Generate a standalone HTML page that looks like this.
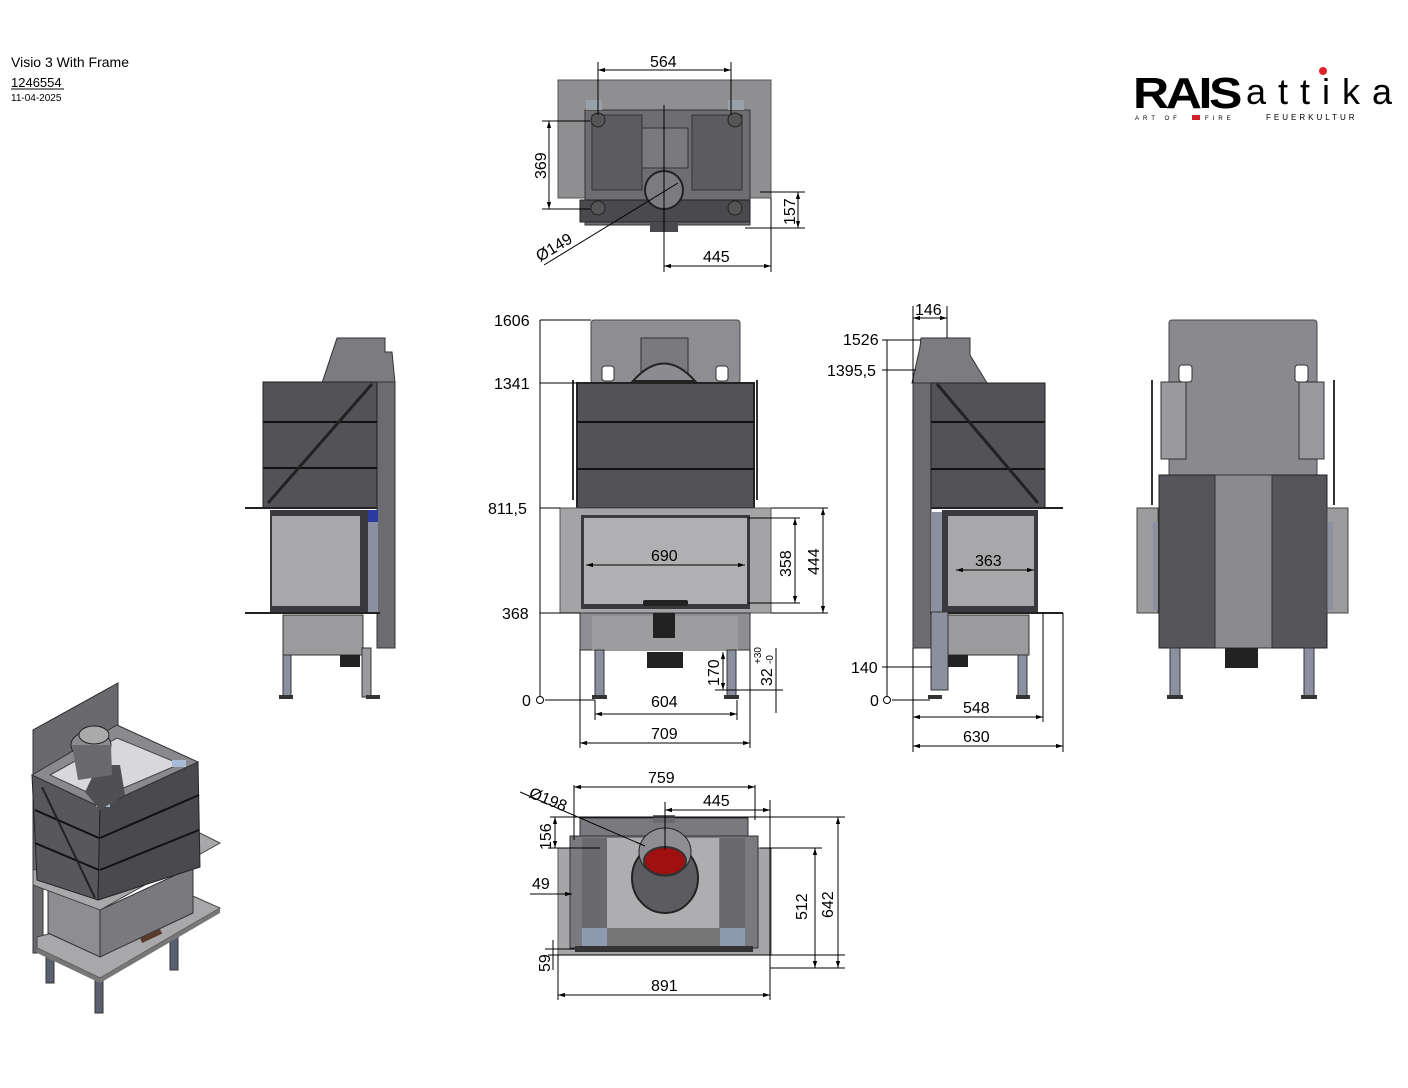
<!DOCTYPE html>
<html><head><meta charset="utf-8"><style>
html,body{margin:0;padding:0;background:#fff;}
svg{display:block;}
text{font-family:"Liberation Sans","DejaVu Sans",sans-serif;fill:#000;}
.d{stroke:#000;stroke-width:1;fill:none;}
.t{font-size:16px;}
</style></head><body>
<svg width="1408" height="1088" viewBox="0 0 1408 1088" xmlns="http://www.w3.org/2000/svg">
<defs>
<marker id="a" viewBox="0 0 10 10" refX="10" refY="5" markerWidth="7" markerHeight="7" orient="auto-start-reverse"><path d="M0,2 L10,5 L0,8 z" fill="#000"/></marker>
</defs>

<!-- title block -->
<text x="11" y="67" font-size="14">Visio 3 With Frame</text>
<text x="11" y="87" font-size="13">1246554</text>
<line x1="11" y1="89" x2="64" y2="89" stroke="#000"/>
<text x="11" y="101" font-size="10">11-04-2025</text>

<!-- logo -->
<text x="1133" y="108" font-size="44" font-weight="bold" letter-spacing="-3" textLength="106" lengthAdjust="spacingAndGlyphs">RAIS</text>
<text x="1246" y="104" font-size="36" letter-spacing="12">attika</text>
<circle cx="1323" cy="71" r="4" fill="#e0202a"/>
<text x="1135" y="120" font-size="6" letter-spacing="4">ART OF</text>
<rect x="1192" y="115" width="8" height="5" fill="#d0202a"/>
<text x="1205" y="120" font-size="6" letter-spacing="4">FIRE</text>
<text x="1266" y="120" font-size="8" letter-spacing="3">FEUERKULTUR</text>

<!-- ============ TOP VIEW ============ -->
<rect x="558" y="80" width="213" height="118" fill="#8f8f92" stroke="#555"/>
<rect x="585" y="110" width="165" height="115" fill="#6e6e72" stroke="#333"/>
<rect x="592" y="115" width="50" height="75" fill="#5c5c60" stroke="#333"/>
<rect x="692" y="115" width="50" height="75" fill="#5c5c60" stroke="#333"/>
<rect x="642" y="128" width="46" height="40" fill="#7a7a7e" stroke="#333"/>
<rect x="580" y="200" width="170" height="22" fill="#4a4a4e" stroke="#222"/>
<rect x="650" y="222" width="28" height="10" fill="#4a4a4e"/>
<circle cx="664" cy="190" r="19" fill="#7c7c80" stroke="#222" stroke-width="2"/>
<circle cx="598" cy="120" r="7" fill="#555" stroke="#222"/><circle cx="735" cy="120" r="7" fill="#555" stroke="#222"/>
<circle cx="598" cy="208" r="7" fill="#555" stroke="#222"/><circle cx="735" cy="208" r="7" fill="#555" stroke="#222"/>
<rect x="586" y="100" width="16" height="10" fill="#9aa0aa"/><rect x="728" y="100" width="16" height="10" fill="#9aa0aa"/>
<line x1="664" y1="105" x2="664" y2="272" class="d"/>
<line x1="598" y1="62" x2="598" y2="115" class="d"/><line x1="731" y1="62" x2="731" y2="115" class="d"/>
<line x1="598" y1="70" x2="731" y2="70" class="d" marker-start="url(#a)" marker-end="url(#a)"/>
<text x="650" y="67" class="t">564</text>
<line x1="542" y1="121" x2="590" y2="121" class="d"/><line x1="542" y1="209" x2="590" y2="209" class="d"/>
<line x1="549" y1="121" x2="549" y2="209" class="d" marker-start="url(#a)" marker-end="url(#a)"/>
<text transform="translate(546,179) rotate(-90)" class="t">369</text>
<line x1="760" y1="192" x2="805" y2="192" class="d"/><line x1="745" y1="228" x2="805" y2="228" class="d"/>
<line x1="798" y1="192" x2="798" y2="228" class="d" marker-start="url(#a)" marker-end="url(#a)"/>
<text transform="translate(795,225) rotate(-90)" class="t">157</text>
<line x1="771" y1="198" x2="771" y2="272" class="d"/>
<line x1="664" y1="266" x2="771" y2="266" class="d" marker-start="url(#a)" marker-end="url(#a)"/>
<text x="703" y="262" class="t">445</text>
<line x1="544" y1="265" x2="678" y2="183" class="d"/>
<text transform="translate(540,262) rotate(-31)" class="t">Ø149</text>

<!-- ============ LEFT SIDE VIEW ============ -->
<polygon points="337,338 385,338 385,352 392,352 395,383 322,383" fill="#7c7c80" stroke="#333"/>
<rect x="377" y="382" width="18" height="266" fill="#6c6c70" stroke="#333"/>
<rect x="263" y="382" width="114" height="126" fill="#535357" stroke="#222"/>
<line x1="263" y1="422" x2="377" y2="422" stroke="#111" stroke-width="2"/>
<line x1="263" y1="468" x2="377" y2="468" stroke="#111" stroke-width="2"/>
<line x1="268" y1="503" x2="372" y2="384" stroke="#222" stroke-width="3"/>
<line x1="245" y1="508" x2="377" y2="508" stroke="#222" stroke-width="2"/>
<rect x="270" y="510" width="98" height="102" fill="#3a3a3e"/>
<rect x="272" y="516" width="88" height="90" fill="#a8a8aa"/>
<rect x="368" y="510" width="10" height="102" fill="#8a90a0"/><rect x="368" y="510" width="10" height="12" fill="#2a3aa0"/>
<line x1="245" y1="613" x2="380" y2="613" stroke="#222" stroke-width="2"/>
<rect x="283" y="615" width="80" height="40" fill="#9b9b9e" stroke="#333"/>
<rect x="340" y="655" width="20" height="12" fill="#222"/>
<rect x="283" y="655" width="8" height="42" fill="#8a90a0" stroke="#333"/>
<rect x="362" y="648" width="9" height="49" fill="#9a9a9e" stroke="#333"/>
<rect x="279" y="695" width="14" height="4" fill="#333"/><rect x="366" y="695" width="14" height="4" fill="#333"/>

<!-- ============ FRONT VIEW ============ -->
<rect x="591" y="320" width="149" height="63" rx="3" fill="#8e8e92" stroke="#444"/>
<rect x="602" y="366" width="12" height="15" rx="3" fill="#fff" stroke="#333"/>
<rect x="716" y="366" width="12" height="15" rx="3" fill="#fff" stroke="#333"/>
<rect x="641" y="338" width="47" height="45" fill="#7a7a7e" stroke="#333"/>
<path d="M633,381 Q664,346 695,381 Z" fill="#8c8c90" stroke="#222" stroke-width="2"/>
<rect x="577" y="383" width="177" height="125" fill="#535357" stroke="#222" stroke-width="2"/>
<line x1="577" y1="422" x2="754" y2="422" stroke="#111" stroke-width="2"/>
<line x1="577" y1="469" x2="754" y2="469" stroke="#111" stroke-width="2"/>
<line x1="573" y1="380" x2="573" y2="500" stroke="#333" stroke-width="2"/>
<line x1="757" y1="380" x2="757" y2="500" stroke="#333" stroke-width="2"/>
<rect x="560" y="508" width="211" height="105" fill="#a4a4a6" stroke="#555"/>
<rect x="581" y="515" width="169" height="94" fill="#3a3a3e"/>
<rect x="584" y="518" width="163" height="86" fill="#b0b0b2"/>
<rect x="643" y="600" width="45" height="6" rx="2" fill="#222"/>
<rect x="580" y="613" width="170" height="37" fill="#8e8e92" stroke="#333"/>
<rect x="592" y="616" width="146" height="34" fill="#9d9d9f"/>
<rect x="653" y="613" width="22" height="25" fill="#222"/>
<rect x="647" y="652" width="36" height="16" fill="#222"/>
<rect x="595" y="650" width="9" height="47" fill="#8a90a0" stroke="#333"/>
<rect x="727" y="650" width="9" height="47" fill="#8a90a0" stroke="#333"/>
<rect x="592" y="695" width="15" height="4" fill="#333"/><rect x="724" y="695" width="15" height="4" fill="#333"/>
<!-- front dims -->
<line x1="540" y1="320" x2="540" y2="700" class="d"/>
<line x1="540" y1="320" x2="591" y2="320" class="d"/>
<line x1="540" y1="383" x2="577" y2="383" class="d"/>
<line x1="540" y1="508" x2="560" y2="508" class="d"/>
<line x1="540" y1="613" x2="580" y2="613" class="d"/>
<line x1="545" y1="700" x2="595" y2="700" class="d"/>
<circle cx="540" cy="700" r="3.5" fill="#fff" stroke="#000"/>
<text x="494" y="326" class="t">1606</text>
<text x="494" y="389" class="t">1341</text>
<text x="488" y="514" class="t">811,5</text>
<text x="502" y="619" class="t">368</text>
<text x="522" y="706" class="t">0</text>
<line x1="586" y1="565" x2="745" y2="565" class="d" marker-start="url(#a)" marker-end="url(#a)"/>
<text x="651" y="561" class="t">690</text>
<line x1="748" y1="518" x2="800" y2="518" class="d"/><line x1="748" y1="603" x2="800" y2="603" class="d"/>
<line x1="795" y1="518" x2="795" y2="603" class="d" marker-start="url(#a)" marker-end="url(#a)"/>
<text transform="translate(791,577) rotate(-90)" class="t">358</text>
<line x1="771" y1="508" x2="828" y2="508" class="d"/><line x1="771" y1="613" x2="828" y2="613" class="d"/>
<line x1="823" y1="508" x2="823" y2="613" class="d" marker-start="url(#a)" marker-end="url(#a)"/>
<text transform="translate(819,575) rotate(-90)" class="t">444</text>
<line x1="723" y1="652" x2="723" y2="690" class="d" marker-start="url(#a)" marker-end="url(#a)"/>
<line x1="715" y1="690" x2="783" y2="690" class="d"/>
<text transform="translate(719,686) rotate(-90)" class="t">170</text>
<line x1="776" y1="648" x2="776" y2="713" class="d"/>
<text transform="translate(772,686) rotate(-90)" class="t">32</text>
<text transform="translate(761,664) rotate(-90)" font-size="10">+30</text>
<text transform="translate(773,664) rotate(-90)" font-size="10">-0</text>
<line x1="595" y1="700" x2="595" y2="720" class="d"/><line x1="737" y1="700" x2="737" y2="720" class="d"/>
<line x1="595" y1="714" x2="737" y2="714" class="d" marker-start="url(#a)" marker-end="url(#a)"/>
<text x="651" y="707" class="t">604</text>
<line x1="580" y1="650" x2="580" y2="748" class="d"/><line x1="750" y1="650" x2="750" y2="748" class="d"/>
<line x1="580" y1="743" x2="750" y2="743" class="d" marker-start="url(#a)" marker-end="url(#a)"/>
<text x="651" y="739" class="t">709</text>

<!-- ============ RIGHT SIDE VIEW ============ -->
<polygon points="921,338 970,338 970,355 987,383 912,383 920,347" fill="#7c7c80" stroke="#333"/>
<rect x="913" y="383" width="18" height="265" fill="#6c6c70" stroke="#333"/>
<rect x="931" y="383" width="114" height="125" fill="#535357" stroke="#222"/>
<line x1="931" y1="422" x2="1045" y2="422" stroke="#111" stroke-width="2"/>
<line x1="931" y1="469" x2="1045" y2="469" stroke="#111" stroke-width="2"/>
<line x1="937" y1="384" x2="1038" y2="503" stroke="#222" stroke-width="3"/>
<line x1="931" y1="508" x2="1063" y2="508" stroke="#222" stroke-width="2"/>
<rect x="942" y="510" width="96" height="102" fill="#3a3a3e"/>
<rect x="948" y="516" width="86" height="90" fill="#a8a8aa"/>
<rect x="931" y="512" width="11" height="100" fill="#8a90a0"/>
<line x1="930" y1="613" x2="1063" y2="613" stroke="#222" stroke-width="2"/>
<rect x="944" y="615" width="85" height="40" fill="#9b9b9e" stroke="#333"/>
<rect x="948" y="655" width="20" height="12" fill="#222"/>
<rect x="931" y="612" width="17" height="78" fill="#8a90a0" stroke="#333"/>
<rect x="1018" y="655" width="9" height="42" fill="#8a90a0" stroke="#333"/>
<rect x="928" y="695" width="14" height="4" fill="#333"/><rect x="1016" y="695" width="14" height="4" fill="#333"/>
<!-- right dims -->
<line x1="887" y1="340" x2="887" y2="700" class="d"/>
<line x1="882" y1="340" x2="921" y2="340" class="d"/>
<line x1="882" y1="370" x2="916" y2="370" class="d"/>
<line x1="882" y1="667" x2="932" y2="667" class="d"/>
<line x1="892" y1="700" x2="930" y2="700" class="d"/>
<circle cx="887" cy="700" r="3.5" fill="#fff" stroke="#000"/>
<text x="843" y="345" class="t">1526</text>
<text x="827" y="376" class="t">1395,5</text>
<text x="851" y="673" class="t">140</text>
<text x="870" y="706" class="t">0</text>
<line x1="913" y1="306" x2="913" y2="383" class="d"/><line x1="947" y1="306" x2="947" y2="338" class="d"/>
<line x1="913" y1="318" x2="947" y2="318" class="d" marker-start="url(#a)" marker-end="url(#a)"/>
<text x="915" y="315" class="t">146</text>
<line x1="913" y1="648" x2="913" y2="752" class="d"/>
<line x1="1043" y1="612" x2="1043" y2="722" class="d"/>
<line x1="1063" y1="613" x2="1063" y2="752" class="d"/>
<line x1="913" y1="717" x2="1043" y2="717" class="d" marker-start="url(#a)" marker-end="url(#a)"/>
<text x="963" y="713" class="t">548</text>
<line x1="913" y1="746" x2="1063" y2="746" class="d" marker-start="url(#a)" marker-end="url(#a)"/>
<text x="963" y="742" class="t">630</text>
<line x1="956" y1="570" x2="1034" y2="570" class="d" marker-start="url(#a)" marker-end="url(#a)"/>
<text x="975" y="566" class="t">363</text>

<!-- ============ BACK VIEW ============ -->
<rect x="1169" y="320" width="148" height="165" rx="3" fill="#8a8a8e" stroke="#444"/>
<rect x="1179" y="365" width="13" height="17" rx="3" fill="#fff" stroke="#333"/>
<rect x="1295" y="365" width="13" height="17" rx="3" fill="#fff" stroke="#333"/>
<rect x="1161" y="382" width="25" height="77" fill="#9a9a9e" stroke="#333"/>
<rect x="1299" y="382" width="25" height="77" fill="#9a9a9e" stroke="#333"/>
<line x1="1152" y1="380" x2="1152" y2="505" stroke="#333" stroke-width="2"/>
<line x1="1334" y1="380" x2="1334" y2="505" stroke="#333" stroke-width="2"/>
<rect x="1159" y="475" width="168" height="173" fill="#55555a" stroke="#222"/>
<rect x="1215" y="475" width="57" height="173" fill="#8b8b8f" stroke="#333"/>
<rect x="1137" y="508" width="21" height="105" fill="#9c9c9e" stroke="#444"/>
<rect x="1327" y="508" width="21" height="105" fill="#9c9c9e" stroke="#444"/>
<rect x="1153" y="522" width="5" height="88" fill="#8a90a0"/><rect x="1328" y="522" width="5" height="88" fill="#8a90a0"/>
<rect x="1225" y="648" width="33" height="20" fill="#222"/>
<rect x="1170" y="648" width="10" height="49" fill="#8a90a0" stroke="#333"/>
<rect x="1304" y="648" width="10" height="49" fill="#8a90a0" stroke="#333"/>
<rect x="1167" y="695" width="16" height="4" fill="#333"/><rect x="1301" y="695" width="16" height="4" fill="#333"/>

<!-- ============ BOTTOM VIEW ============ -->
<rect x="558" y="848" width="213" height="107" fill="#a6a6a8" stroke="#555"/>
<rect x="580" y="818" width="168" height="20" fill="#7a7a7e" stroke="#333"/>
<rect x="653" y="815" width="22" height="8" fill="#6a6a6e"/>
<rect x="570" y="836" width="188" height="112" fill="#7b7b7f" stroke="#333"/>
<rect x="607" y="838" width="112" height="90" fill="#aeaeb0"/>
<rect x="582" y="838" width="25" height="110" fill="#6a6a6e"/>
<rect x="720" y="838" width="25" height="110" fill="#6a6a6e"/>
<rect x="582" y="928" width="25" height="18" fill="#8e9ab0"/><rect x="720" y="928" width="25" height="18" fill="#8e9ab0"/>
<rect x="607" y="928" width="113" height="18" fill="#777"/>
<rect x="575" y="946" width="178" height="6" fill="#333"/>
<ellipse cx="665" cy="878" rx="33" ry="35" fill="#5c5c60" stroke="#222" stroke-width="2"/>
<ellipse cx="665" cy="852" rx="26" ry="24" fill="#8e8e92" stroke="#222"/>
<ellipse cx="665" cy="861" rx="21" ry="14" fill="#a01010" stroke="#333" stroke-width="2"/>
<!-- bottom dims -->
<line x1="574" y1="785" x2="574" y2="840" class="d"/><line x1="755" y1="785" x2="755" y2="820" class="d"/>
<line x1="574" y1="787" x2="755" y2="787" class="d" marker-start="url(#a)" marker-end="url(#a)"/>
<text x="648" y="783" class="t">759</text>
<line x1="665" y1="802" x2="665" y2="850" class="d"/><line x1="770" y1="800" x2="770" y2="1000" class="d"/>
<line x1="665" y1="810" x2="770" y2="810" class="d" marker-start="url(#a)" marker-end="url(#a)"/>
<text x="703" y="806" class="t">445</text>
<line x1="520" y1="792" x2="645" y2="846" class="d"/>
<text transform="translate(528,797) rotate(22)" class="t">Ø198</text>
<line x1="550" y1="817" x2="845" y2="817" class="d"/>
<line x1="548" y1="848" x2="600" y2="848" class="d"/>
<line x1="555" y1="817" x2="555" y2="848" class="d" marker-start="url(#a)" marker-end="url(#a)"/>
<text transform="translate(551,850) rotate(-90)" class="t">156</text>
<line x1="530" y1="894" x2="572" y2="894" class="d" marker-end="url(#a)"/>
<text x="532" y="889" class="t">49</text>
<line x1="548" y1="955" x2="845" y2="955" class="d"/>
<line x1="545" y1="949" x2="575" y2="949" class="d"/>
<line x1="553" y1="940" x2="553" y2="970" class="d"/>
<text transform="translate(550,972) rotate(-90)" class="t">59</text>
<line x1="760" y1="848" x2="822" y2="848" class="d"/>
<line x1="815" y1="848" x2="815" y2="968" class="d" marker-start="url(#a)" marker-end="url(#a)"/>
<line x1="770" y1="968" x2="845" y2="968" class="d"/>
<text transform="translate(807,920) rotate(-90)" class="t">512</text>
<line x1="838" y1="817" x2="838" y2="968" class="d" marker-start="url(#a)" marker-end="url(#a)"/>
<text transform="translate(833,918) rotate(-90)" class="t">642</text>
<line x1="558" y1="955" x2="558" y2="1000" class="d"/>
<line x1="558" y1="995" x2="770" y2="995" class="d" marker-start="url(#a)" marker-end="url(#a)"/>
<text x="651" y="991" class="t">891</text>

<!-- ============ ISOMETRIC ============ -->
<polygon points="33,730 118,683 118,740 43,785 43,953 33,953" fill="#6a6a6e" stroke="#333"/>
<!-- legs -->
<rect x="46" y="948" width="8" height="35" fill="#5a6070" stroke="#333"/>
<rect x="95" y="978" width="8" height="35" fill="#5a6070" stroke="#333"/>
<rect x="170" y="935" width="8" height="35" fill="#5a6070" stroke="#333"/>
<!-- base plate -->
<polygon points="37,937 193,896 220,908 100,978 37,948" fill="#a8a8aa" stroke="#444"/>
<polygon points="37,948 100,978 100,983 37,953" fill="#777"/>
<polygon points="100,978 220,908 220,913 100,983" fill="#777"/>
<!-- lower box -->
<polygon points="48,882 100,910 100,957 48,933" fill="#8e8e92" stroke="#333"/>
<polygon points="100,910 193,867 193,913 100,957" fill="#7a7a7e" stroke="#333"/>
<rect x="140" y="934" width="22" height="5" fill="#5a3a2a" transform="rotate(-25 150 936)"/>
<!-- upper shelf -->
<polygon points="33,870 200,833 220,843 100,910 33,885" fill="#a8a8aa" stroke="#444"/>
<!-- upper box -->
<polygon points="32,775 100,807 98,900 37,880" fill="#58585c" stroke="#222"/>
<polygon points="100,807 198,762 200,867 98,900" fill="#4a4a4e" stroke="#222"/>
<line x1="35" y1="810" x2="99" y2="838" stroke="#111" stroke-width="2"/>
<line x1="35" y1="843" x2="99" y2="870" stroke="#111" stroke-width="2"/>
<line x1="100" y1="838" x2="199" y2="795" stroke="#111" stroke-width="2"/>
<line x1="100" y1="870" x2="199" y2="830" stroke="#111" stroke-width="2"/>
<line x1="42" y1="787" x2="95" y2="898" stroke="#222" stroke-width="2"/>
<polygon points="32,775 117,725 198,762 100,807" fill="#8a8a8e" stroke="#333"/>
<polygon points="50,775 117,738 180,764 100,798" fill="#d8d8da" stroke="#444"/>
<rect x="96" y="800" width="14" height="7" fill="#a8bcd8"/><rect x="172" y="760" width="14" height="7" fill="#a8bcd8"/>
<polygon points="85,792 98,765 120,765 125,795 100,810" fill="#505054"/>
<ellipse cx="91" cy="745" rx="20" ry="14" fill="#8c8c90" stroke="#222"/>
<polygon points="72,745 111,745 112,775 78,780" fill="#6a6a6e"/>
<ellipse cx="94" cy="735" rx="15" ry="9" fill="#aaa" stroke="#222"/>
</svg>
</body></html>
